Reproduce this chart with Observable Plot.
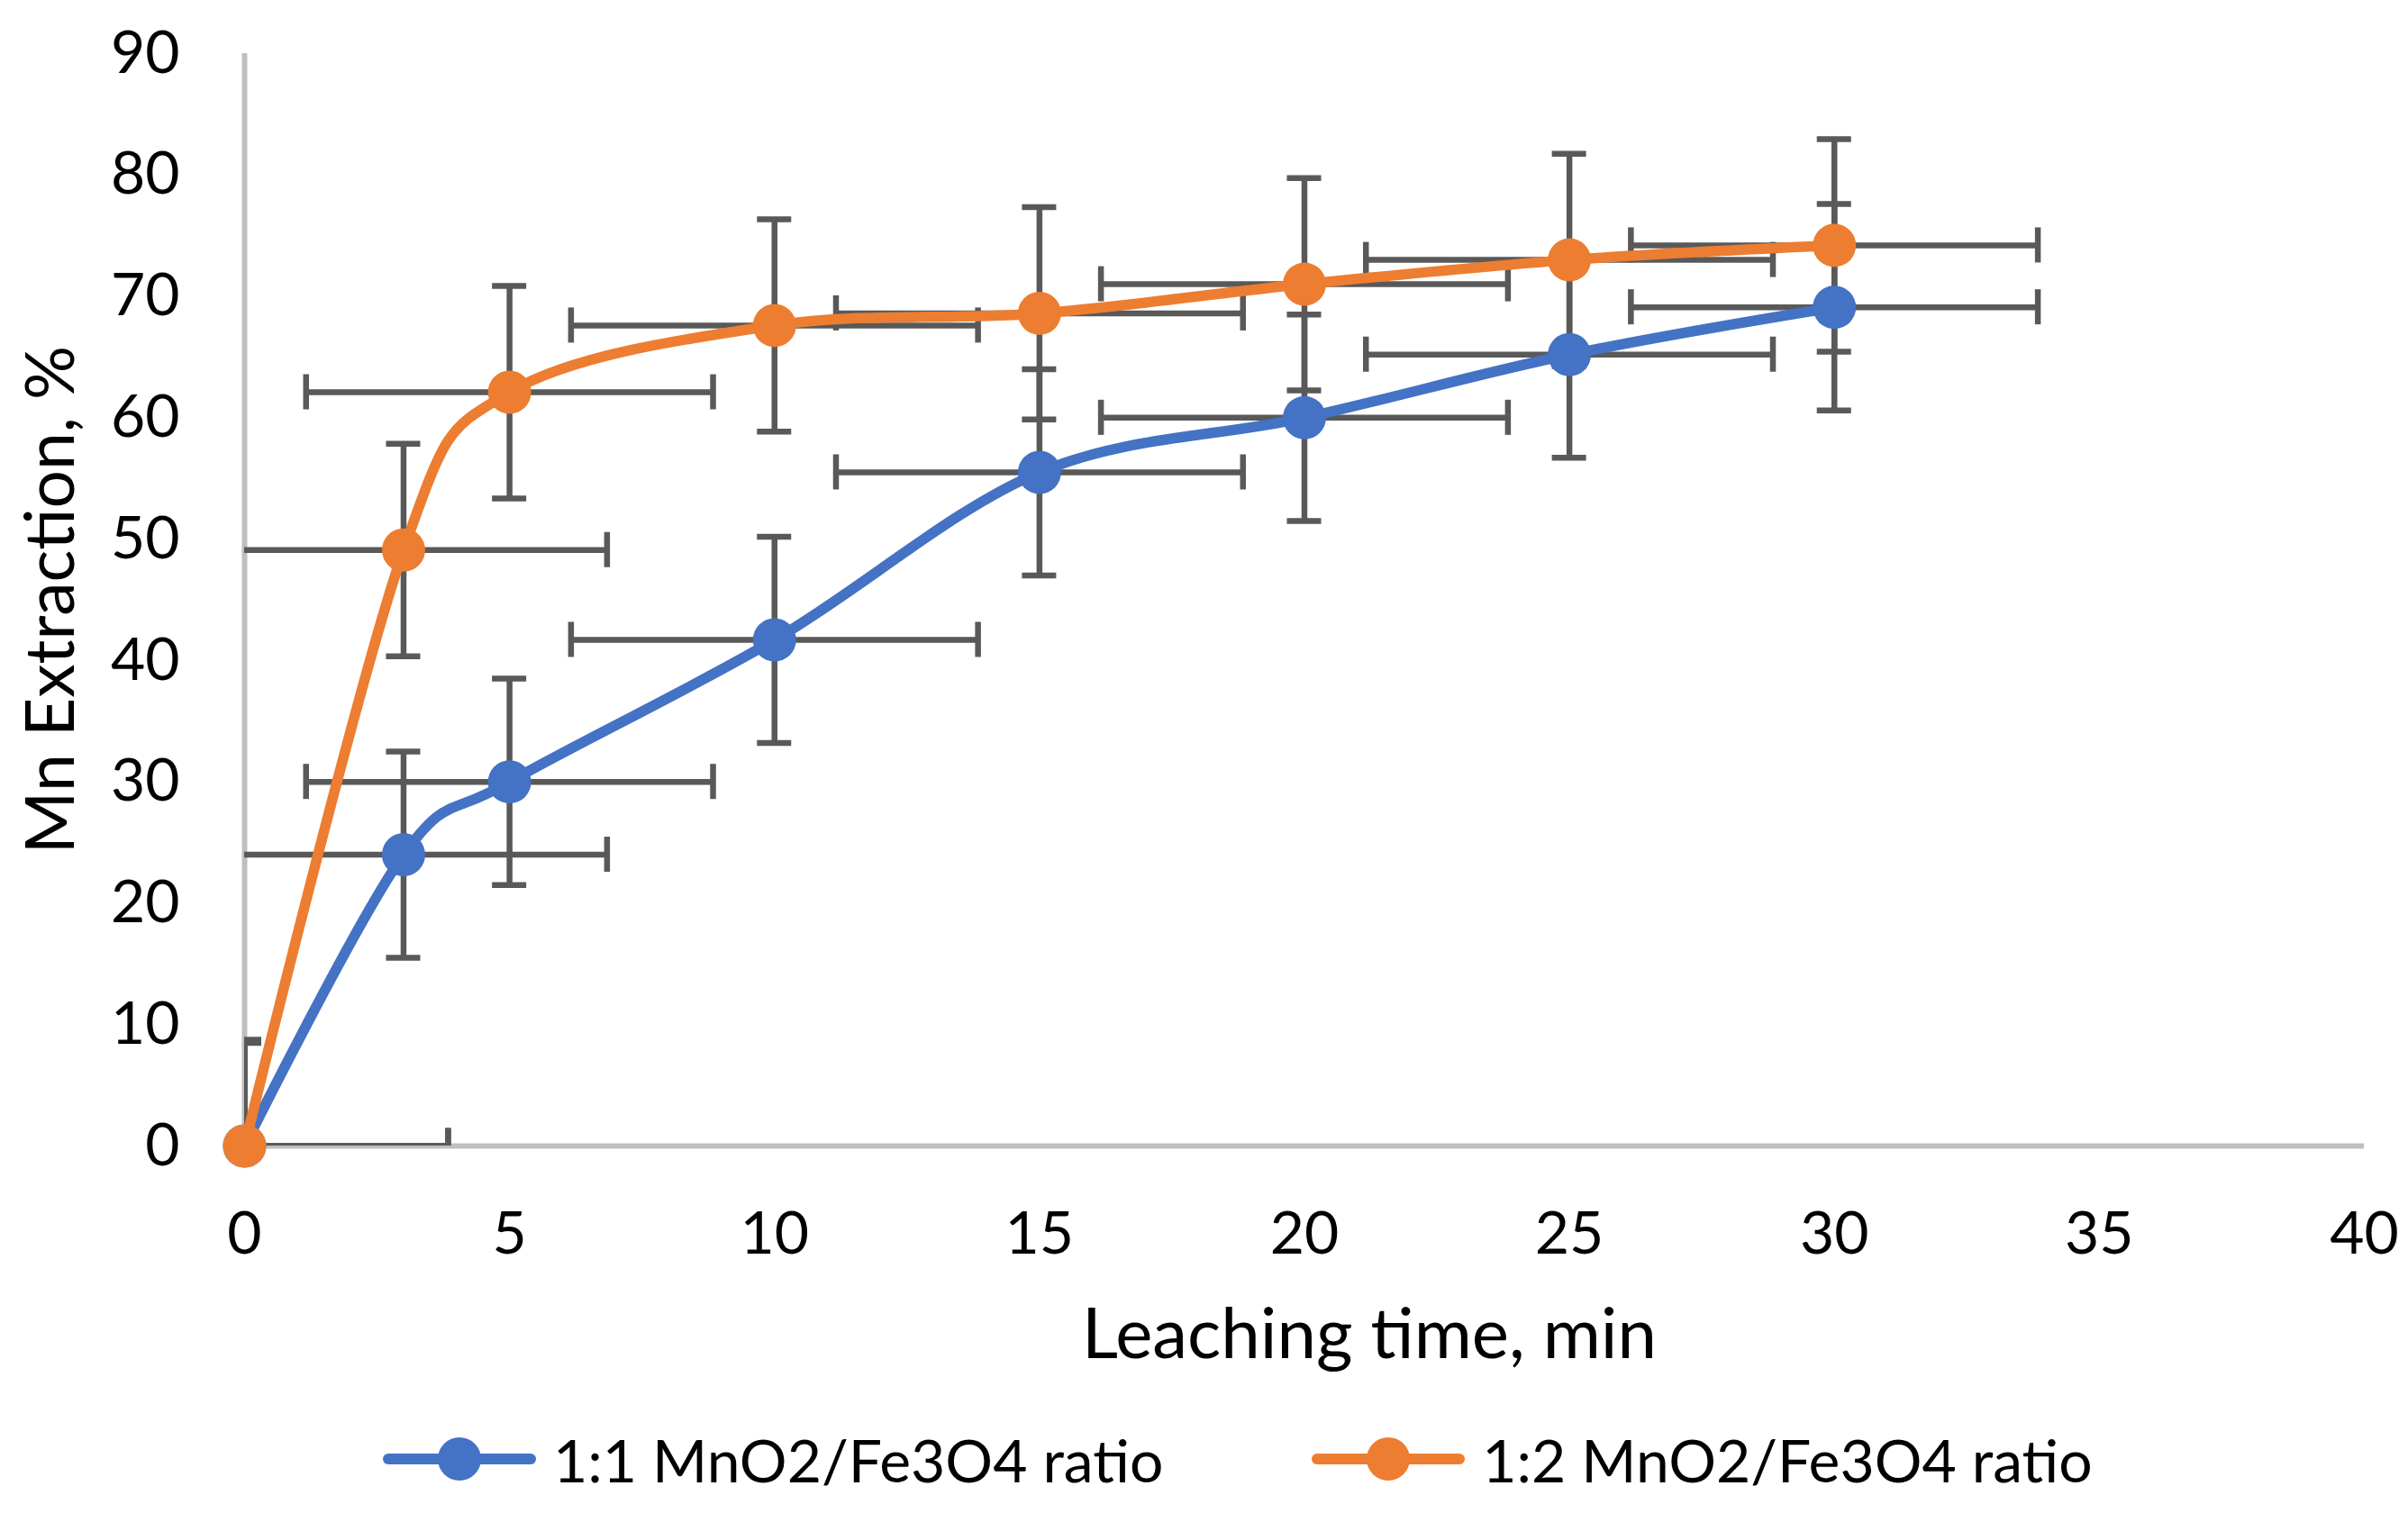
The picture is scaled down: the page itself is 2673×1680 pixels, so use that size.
<!DOCTYPE html>
<html>
<head>
<meta charset="utf-8">
<script src="https://cdn.jsdelivr.net/npm/d3@7"></script>
<script src="https://cdn.jsdelivr.net/npm/@observablehq/plot@0.6"></script>
<style>
  body { margin: 0; background: #fff; overflow: hidden; font-family: Lato, sans-serif; }
  #legend { height: 120px; display: flex; align-items: center; padding-left: 425px; }
  .item { display: flex; align-items: center; font-size: 66px; color: #000; }
  .item svg { margin-right: 19px; }
  .item + .item { margin-left: 165px; }
</style>
</head>
<body>
<div id="chart"></div>
<div id="legend"></div>
<script>
// leaching data
const leachingTime = [0, 3, 5, 10, 15, 20, 25, 30];
const ratio11 = [0, 24.0, 30.0, 41.7, 55.5, 60.0, 65.2, 69.1];
const ratio12 = [0, 49.1, 62.1, 67.6, 68.6, 71.0, 73.0, 74.2];
const ratio11Err = [8.5, 8.5, 8.5, 8.5, 8.5, 8.5, 8.5, 8.5];
const ratio12Err = [8.75, 8.75, 8.75, 8.75, 8.75, 8.75, 8.75, 8.75];
const timeErr = [3.84, 3.84, 3.84, 3.84, 3.84, 3.84, 3.84, 3.84];

const seriesNames = ["1:1 MnO2/Fe3O4 ratio", "1:2 MnO2/Fe3O4 ratio"];
const seriesColors = ["#4472C4", "#ED7D31"];

const xTicks = [0, 5, 10, 15, 20, 25, 30, 35, 40];
const yTicks = [0, 10, 20, 30, 40, 50, 60, 70, 80, 90];

const xTitle = "Leaching time, min";
const yTitle = "Mn Extraction, %";

const rows = [];
leachingTime.forEach((t, i) => {
  rows.push({ series: seriesNames[0], time: t, mn: ratio11[i], mnErr: ratio11Err[i], tErr: timeErr[i] });
});
leachingTime.forEach((t, i) => {
  rows.push({ series: seriesNames[1], time: t, mn: ratio12[i], mnErr: ratio12Err[i], tErr: timeErr[i] });
});

const ERR = "#595959";
const errStyle = { stroke: ERR, strokeWidth: 6.5, clip: true };

const seriesMarks = seriesNames.flatMap((name) => {
  const d = rows.filter((r) => r.series === name);
  return [
    Plot.line(d, { x: "time", y: "mn", stroke: "series", strokeWidth: 11.5, curve: "cardinal" }),
    Plot.dot(d, { x: "time", y: "mn", fill: "series", r: 24 }),
  ];
});

const plot = Plot.plot({
  width: 2673,
  height: 1560,
  marginLeft: 271,
  marginRight: 49,
  marginTop: 59,
  marginBottom: 288,
  style: { fontFamily: "Lato, sans-serif", fontSize: "66px", color: "#000", background: "#fff" },
  x: { domain: [0, 40] },
  y: { domain: [0, 90] },
  color: { domain: seriesNames, range: seriesColors },
  marks: [
    Plot.axisX({ ticks: xTicks, tickSize: 0, tickPadding: 73, label: null }),
    Plot.axisY({ ticks: yTicks, tickSize: 0, tickPadding: 72, label: null }),
    Plot.ruleX([0], { stroke: "#BFBFBF", strokeWidth: 6 }),
    Plot.ruleY([0], { stroke: "#BFBFBF", strokeWidth: 6 }),

    // vertical error bars + caps
    Plot.ruleX(rows, { x: "time", y1: (d) => d.mn - d.mnErr, y2: (d) => d.mn + d.mnErr, ...errStyle }),
    Plot.ruleY(rows, { y: (d) => d.mn - d.mnErr, x1: "time", x2: "time", insetLeft: -19, insetRight: -19, ...errStyle }),
    Plot.ruleY(rows, { y: (d) => d.mn + d.mnErr, x1: "time", x2: "time", insetLeft: -19, insetRight: -19, ...errStyle }),
    // horizontal error bars + caps
    Plot.ruleY(rows, { y: "mn", x1: (d) => d.time - d.tErr, x2: (d) => d.time + d.tErr, ...errStyle }),
    Plot.ruleX(rows, { x: (d) => d.time - d.tErr, y1: "mn", y2: "mn", insetTop: -19.5, insetBottom: -19.5, ...errStyle }),
    Plot.ruleX(rows, { x: (d) => d.time + d.tErr, y1: "mn", y2: "mn", insetTop: -19.5, insetBottom: -19.5, ...errStyle }),

    ...seriesMarks,

    Plot.text([xTitle], { frameAnchor: "bottom", lineAnchor: "middle", textAnchor: "middle", dx: 72, dy: 211, fontSize: 78, fill: "#000" }),
    Plot.text([yTitle], { frameAnchor: "left", lineAnchor: "middle", textAnchor: "middle", dx: -214, rotate: -90, fontSize: 75, fill: "#000" }),
  ],
});
document.getElementById("chart").append(plot);

// legend below the svg
const legend = document.getElementById("legend");
seriesNames.forEach((name, i) => {
  const item = document.createElement("div");
  item.className = "item";
  item.innerHTML =
    `<svg width="170" height="50"><line x1="6" x2="164" y1="25" y2="25" stroke="${seriesColors[i]}" stroke-width="12" stroke-linecap="round"/>` +
    `<circle cx="85" cy="25" r="24" fill="${seriesColors[i]}"/></svg><span>${name}</span>`;
  legend.append(item);
});
</script>
</body>
</html>
